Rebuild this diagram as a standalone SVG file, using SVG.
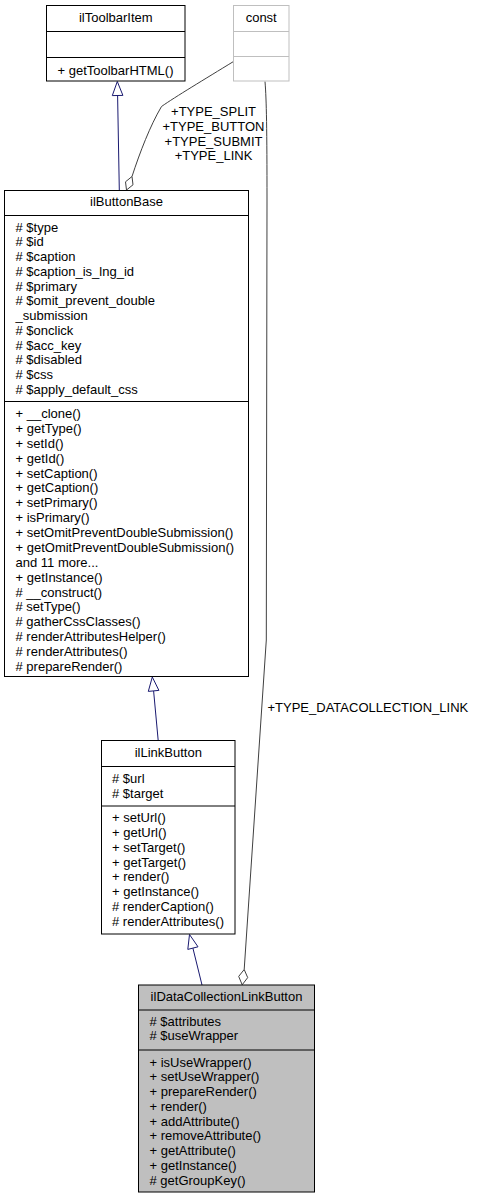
<svg xmlns="http://www.w3.org/2000/svg" width="481" height="1199" viewBox="0 0 481 1199">
<style>
text{font-family:"Liberation Sans",Arial,Helvetica,sans-serif;font-size:13px;fill:#000}
.c{text-anchor:middle}
.box{fill:#fff;stroke:#000;stroke-width:1}
.cur{fill:#bfbfbf;stroke:#000;stroke-width:1}
.ghost{fill:#fff;stroke:#bfbfbf;stroke-width:1}
.div{stroke:#000;stroke-width:1}
.gdiv{stroke:#bfbfbf;stroke-width:1}
.inh{fill:none;stroke:#191970;stroke-width:1}
.inhh{fill:#fff;stroke:#191970;stroke-width:1}
.agg{fill:none;stroke:#404040;stroke-width:1}
.aggh{fill:#fff;stroke:#404040;stroke-width:1}
</style>
<rect width="481" height="1199" fill="#fff"/>
<g id="connectors">
<path class="inh" d="M119.3,190 L117.6,95.5"/>
<polygon class="inhh" points="117.3,81.5 122.9,95.4 112.3,95.6"/>
<path class="agg" d="M233.5,61.5 C205,79 175,97 161.5,106.5 C150,126 140,152 132,176.5"/>
<polygon class="aggh" points="126.5,190 133,184.8 132,176.5 125.5,181.8"/>
<text class="c" x="213.5" y="116.3">+TYPE_SPLIT</text>
<text class="c" x="213.5" y="131">+TYPE_BUTTON</text>
<text class="c" x="213.5" y="145.7">+TYPE_SUBMIT</text>
<text class="c" x="213.5" y="160.4">+TYPE_LINK</text>
<path class="agg" d="M265,81.5 C266.5,100 267,130 267,200 L266.3,640 L244.2,969.5"/>
<polygon class="aggh" points="242.2,984.8 247.7,977.6 244.2,969.5 238.7,976.4"/>
<text x="267.5" y="712">+TYPE_DATACOLLECTION_LINK</text>
<path class="inh" d="M158.2,740.5 L153.6,690.9"/>
<polygon class="inhh" points="152.3,677 158.9,690.4 148.3,691.4"/>
<path class="inh" d="M202,985 L192.9,948.1"/>
<polygon class="inhh" points="189.5,934.5 198,946.8 187.8,949.4"/>
</g>
<g id="ilToolbarItem">
<rect class="box" x="46.5" y="5.5" width="138.5" height="75.5"/>
<line class="div" x1="46.5" y1="31.5" x2="185" y2="31.5"/>
<line class="div" x1="46.5" y1="57.5" x2="185" y2="57.5"/>
<text class="c" x="115.8" y="22">ilToolbarItem</text>
<text x="57.5" y="74.5">+ getToolbarHTML()</text>
</g>
<g id="const">
<rect class="ghost" x="233.5" y="5.5" width="55.5" height="75.5"/>
<line class="gdiv" x1="233.5" y1="31.5" x2="289" y2="31.5"/>
<line class="gdiv" x1="233.5" y1="56.5" x2="289" y2="56.5"/>
<text class="c" x="261.2" y="22">const</text>
</g>
<g id="ilButtonBase">
<rect class="box" x="4.5" y="190.5" width="244" height="486"/>
<line class="div" x1="4.5" y1="215.5" x2="248.5" y2="215.5"/>
<line class="div" x1="4.5" y1="401.5" x2="248.5" y2="401.5"/>
<text class="c" x="126.5" y="206.2">ilButtonBase</text>
<text x="15.5" y="231.5">
<tspan x="15.5" dy="0"># $type</tspan>
<tspan x="15.5" dy="14.75"># $id</tspan>
<tspan x="15.5" dy="14.75"># $caption</tspan>
<tspan x="15.5" dy="14.75"># $caption_is_lng_id</tspan>
<tspan x="15.5" dy="14.75"># $primary</tspan>
<tspan x="15.5" dy="14.75"># $omit_prevent_double</tspan>
<tspan x="15.5" dy="14.75">_submission</tspan>
<tspan x="15.5" dy="14.75"># $onclick</tspan>
<tspan x="15.5" dy="14.75"># $acc_key</tspan>
<tspan x="15.5" dy="14.75"># $disabled</tspan>
<tspan x="15.5" dy="14.75"># $css</tspan>
<tspan x="15.5" dy="14.75"># $apply_default_css</tspan>
</text>
<text x="15.5" y="418">
<tspan x="15.5" dy="0">+ __clone()</tspan>
<tspan x="15.5" dy="14.88">+ getType()</tspan>
<tspan x="15.5" dy="14.88">+ setId()</tspan>
<tspan x="15.5" dy="14.88">+ getId()</tspan>
<tspan x="15.5" dy="14.88">+ setCaption()</tspan>
<tspan x="15.5" dy="14.88">+ getCaption()</tspan>
<tspan x="15.5" dy="14.88">+ setPrimary()</tspan>
<tspan x="15.5" dy="14.88">+ isPrimary()</tspan>
<tspan x="15.5" dy="14.88">+ setOmitPreventDoubleSubmission()</tspan>
<tspan x="15.5" dy="14.88">+ getOmitPreventDoubleSubmission()</tspan>
<tspan x="15.5" dy="14.88">and 11 more...</tspan>
<tspan x="15.5" dy="14.88">+ getInstance()</tspan>
<tspan x="15.5" dy="14.88"># __construct()</tspan>
<tspan x="15.5" dy="14.88"># setType()</tspan>
<tspan x="15.5" dy="14.88"># gatherCssClasses()</tspan>
<tspan x="15.5" dy="14.88"># renderAttributesHelper()</tspan>
<tspan x="15.5" dy="14.88"># renderAttributes()</tspan>
<tspan x="15.5" dy="14.88"># prepareRender()</tspan>
</text>
</g>
<g id="ilLinkButton">
<rect class="box" x="101.5" y="740.5" width="133.5" height="193.5"/>
<line class="div" x1="101.5" y1="766.5" x2="235" y2="766.5"/>
<line class="div" x1="101.5" y1="806" x2="235" y2="806"/>
<text class="c" x="168.3" y="757.2">ilLinkButton</text>
<text x="112" y="782.8">
<tspan x="112" dy="0"># $url</tspan>
<tspan x="112" dy="14.75"># $target</tspan>
</text>
<text x="112" y="822.3">
<tspan x="112" dy="0">+ setUrl()</tspan>
<tspan x="112" dy="14.75">+ getUrl()</tspan>
<tspan x="112" dy="14.75">+ setTarget()</tspan>
<tspan x="112" dy="14.75">+ getTarget()</tspan>
<tspan x="112" dy="14.75">+ render()</tspan>
<tspan x="112" dy="14.75">+ getInstance()</tspan>
<tspan x="112" dy="14.75"># renderCaption()</tspan>
<tspan x="112" dy="14.75"># renderAttributes()</tspan>
</text>
</g>
<g id="ilDataCollectionLinkButton">
<rect class="cur" x="138.5" y="985" width="176" height="207"/>
<line class="div" x1="138.5" y1="1010" x2="314.5" y2="1010"/>
<line class="div" x1="138.5" y1="1050" x2="314.5" y2="1050"/>
<text class="c" x="226.5" y="1001.2">ilDataCollectionLinkButton</text>
<text x="149.5" y="1025.5">
<tspan x="149.5" dy="0"># $attributes</tspan>
<tspan x="149.5" dy="14.75"># $useWrapper</tspan>
</text>
<text x="149.5" y="1066.5">
<tspan x="149.5" dy="0">+ isUseWrapper()</tspan>
<tspan x="149.5" dy="14.75">+ setUseWrapper()</tspan>
<tspan x="149.5" dy="14.75">+ prepareRender()</tspan>
<tspan x="149.5" dy="14.75">+ render()</tspan>
<tspan x="149.5" dy="14.75">+ addAttribute()</tspan>
<tspan x="149.5" dy="14.75">+ removeAttribute()</tspan>
<tspan x="149.5" dy="14.75">+ getAttribute()</tspan>
<tspan x="149.5" dy="14.75">+ getInstance()</tspan>
<tspan x="149.5" dy="14.75"># getGroupKey()</tspan>
</text>
</g>
</svg>
